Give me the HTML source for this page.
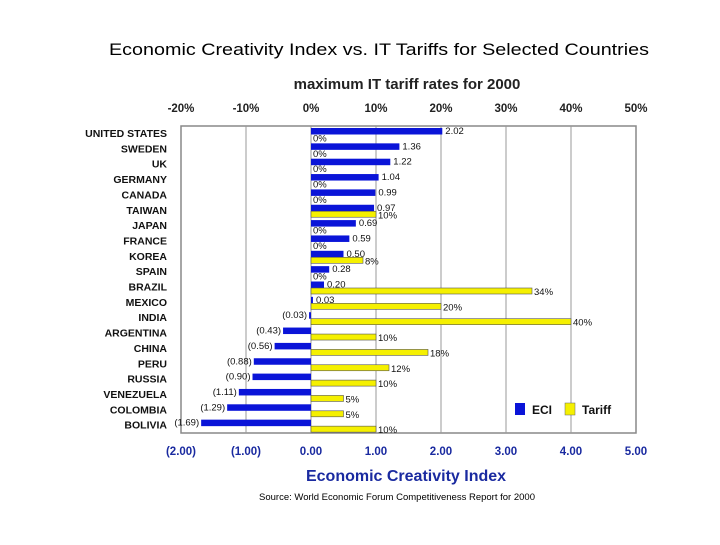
<!DOCTYPE html>
<html><head><meta charset="utf-8"><style>
body{margin:0;background:#fff;font-family:"Liberation Sans",sans-serif;}
svg text{font-family:"Liberation Sans",sans-serif;}
</style></head><body>
<svg width="720" height="540" viewBox="0 0 720 540">
<text x="379" y="55" font-size="17" textLength="540" lengthAdjust="spacingAndGlyphs" text-anchor="middle" fill="#000">Economic Creativity Index  vs. IT Tariffs  for Selected Countries</text>
<text x="407" y="89" font-size="15" font-weight="bold" text-anchor="middle" fill="#222">maximum IT tariff rates for 2000</text>
<text x="406" y="481" font-size="16" font-weight="bold" text-anchor="middle" fill="#1a2aa0">Economic Creativity Index</text>
<text x="397" y="500" font-size="9.5" text-anchor="middle" fill="#000">Source: World Economic Forum Competitiveness Report for 2000</text>
<g id="plot"></g>
<g>
<rect x="515" y="403" width="10" height="12" fill="#0a14d8"/>
<text x="532" y="414" font-size="12" font-weight="bold" fill="#111">ECI</text>
<rect x="565" y="403" width="10" height="12" fill="#f5f000" stroke="#666" stroke-width="0.5"/>
<text x="582" y="414" font-size="12" font-weight="bold" fill="#111">Tariff</text>
</g>
</svg>
<script>
const countries=["UNITED STATES","SWEDEN","UK","GERMANY","CANADA","TAIWAN","JAPAN","FRANCE","KOREA","SPAIN","BRAZIL","MEXICO","INDIA","ARGENTINA","CHINA","PERU","RUSSIA","VENEZUELA","COLOMBIA","BOLIVIA"];
const eci=[2.02,1.36,1.22,1.04,0.99,0.97,0.69,0.59,0.50,0.28,0.20,0.03,-0.03,-0.43,-0.56,-0.88,-0.90,-1.11,-1.29,-1.69];
const tariff=[0,0,0,0,0,10,0,0,8,0,34,20,40,10,18,12,10,5,5,10];
const eciTicks=[-2,-1,0,1,2,3,4,5];
const eciTickLabels=["(2.00)","(1.00)","0.00","1.00","2.00","3.00","4.00","5.00"];
const tariffTickLabels=["-20%","-10%","0%","10%","20%","30%","40%","50%"];
const NS="http://www.w3.org/2000/svg";
const g=document.getElementById('plot');
const L=181,R=636,T=126,B=433;
const xE=v=>L+(v+2)/7*(R-L);
const xT=p=>xE(p/10);
const n=countries.length;
const band=(B-T)/n;
function el(t,a){const e=document.createElementNS(NS,t);for(const k in a)e.setAttribute(k,a[k]);g.appendChild(e);return e;}
let f=el('rect',{x:L,y:T,width:R-L,height:B-T,fill:'#fff',stroke:'#888','stroke-width':1.5});


eciTicks.forEach((v,i)=>{
 if(i>0&&i<eciTicks.length-1){const l=el('line',{x1:xE(v),x2:xE(v),y1:T,y2:B,stroke:'#999','stroke-width':1});
 
 }
 const t=el('text',{x:xE(v),y:455,'font-size':11.5,'font-weight':'bold','text-anchor':'middle',fill:'#1a2aa0'});t.textContent=eciTickLabels[i];
 
 
 const t2=el('text',{x:xE(v),y:112,'font-size':11.5,'font-weight':'bold','text-anchor':'middle',fill:'#222'});t2.textContent=tariffTickLabels[i];
 
 
});
const fmt=v=>v<0?'('+Math.abs(v).toFixed(2)+')':v.toFixed(2);
countries.forEach((c,i)=>{
 const top=T+band*i;
 const lb=el('text',{x:167,y:top+11,'font-size':10.5,'font-weight':'bold','text-anchor':'end',fill:'#111'});lb.textContent=c;
 
 
 const v=eci[i],x0=xE(0),x1=xE(v);
 const b=el('rect',{x:Math.min(x0,x1),y:top+2,width:Math.max(1.5,Math.abs(x1-x0)),height:6.5,fill:'#0a14d8'});
 
 
 const vt=el('text',{x:v>=0?x1+3:x1-2,y:top+8,'font-size':9.5,'text-anchor':v>=0?'start':'end',fill:'#111'});vt.textContent=fmt(v);
 
 
 const p=tariff[i],t1=xT(p);
 if(p>0){const y=el('rect',{x:x0,y:top+8.5,width:t1-x0,height:6,fill:'#f5f000',stroke:'#555','stroke-width':0.6});
 
 }
 const pt=el('text',{x:t1+2,y:top+15.5,'font-size':9.5,fill:'#111'});pt.textContent=p+'%';
 
 
});
</script>
</body></html>
